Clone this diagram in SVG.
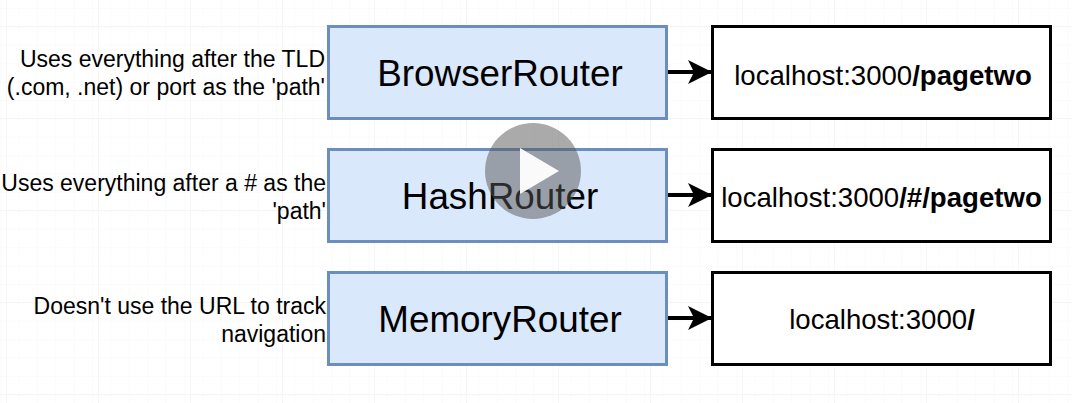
<svg xmlns="http://www.w3.org/2000/svg" width="1072" height="403" viewBox="0 0 1072 403">
<style>
.r{fill:#dae8fc;stroke:#6c8ebf;stroke-width:3}
.u{fill:#fff;stroke:#000;stroke-width:3}
text{font-family:"Liberation Sans",Arial,sans-serif;fill:#000}
.t{font-size:36.800px;text-anchor:middle}
.l{font-size:27.600px;text-anchor:middle}
.s{font-size:23px;text-anchor:end}
.b{font-weight:bold}
.c{stroke:#000;stroke-width:4;fill:none;marker-end:url(#a)}
</style>
<defs>
<marker id="a" markerUnits="userSpaceOnUse" markerWidth="30" markerHeight="30" refX="24" refY="15" orient="auto">
<path d="M0 3 L24 15 L0 27 L6 15 Z" fill="#000"/>
</marker>
<pattern id="gs" width="18.4" height="18.4" patternUnits="userSpaceOnUse" x="0" y="8"><path d="M18.4 0H0V18.4" fill="none" stroke="#f7f7f7"/></pattern>
<pattern id="gb" width="92" height="92" patternUnits="userSpaceOnUse" x="6" y="26"><path d="M92 0H0V92" fill="none" stroke="#ededed"/></pattern>
</defs>
<rect width="1072" height="403" fill="#fff"/>
<rect width="1072" height="403" fill="url(#gs)"/>
<rect width="1072" height="403" fill="url(#gb)"/>
<g id="connectors">
<path class="c" d="M667 72H712"/>
<path class="c" d="M667 195H712"/>
<path class="c" d="M667 318H712"/>
</g>
<g id="browser-router"><rect class="r" x="328.500" y="26.500" width="338" height="92"/><text class="t" x="500" y="86">BrowserRouter</text></g>
<g id="hash-router"><rect class="r" x="328.500" y="149.500" width="338" height="92"/><text class="t" x="500" y="209">HashRouter</text></g>
<g id="memory-router"><rect class="r" x="328.500" y="272.500" width="338" height="92"/><text class="t" x="500" y="332">MemoryRouter</text></g>
<g id="url-browser"><rect class="u" x="712.500" y="26.500" width="338" height="92"/><text class="l" x="883" y="85">localhost:3000<tspan class="b">/pagetwo</tspan></text></g>
<g id="url-hash"><rect class="u" x="712.500" y="149.500" width="338" height="92"/><text class="l" x="881.500" y="207">localhost:3000<tspan class="b">/#/pagetwo</tspan></text></g>
<g id="url-memory"><rect class="u" x="712.500" y="272.500" width="338" height="92"/><text class="l" x="882" y="329">localhost:3000<tspan class="b">/</tspan></text></g>
<g id="note-browser"><text class="s" x="325" y="67">Uses everything after the TLD</text><text class="s" x="325" y="95">(.com, .net) or port as the 'path'</text></g>
<g id="note-hash"><text class="s" x="326" y="191">Uses everything after a # as the</text><text class="s" x="326" y="219">'path'</text></g>
<g id="note-memory"><text class="s" x="326" y="314">Doesn't use the URL to track</text><text class="s" x="326" y="342">navigation</text></g>
<g id="play">
<circle cx="533" cy="171" r="48" fill="#555" fill-opacity=".5"/>
<path d="M520 148L559 171L520 194Z" fill="#fff" fill-opacity=".95"/>
</g>
</svg>
